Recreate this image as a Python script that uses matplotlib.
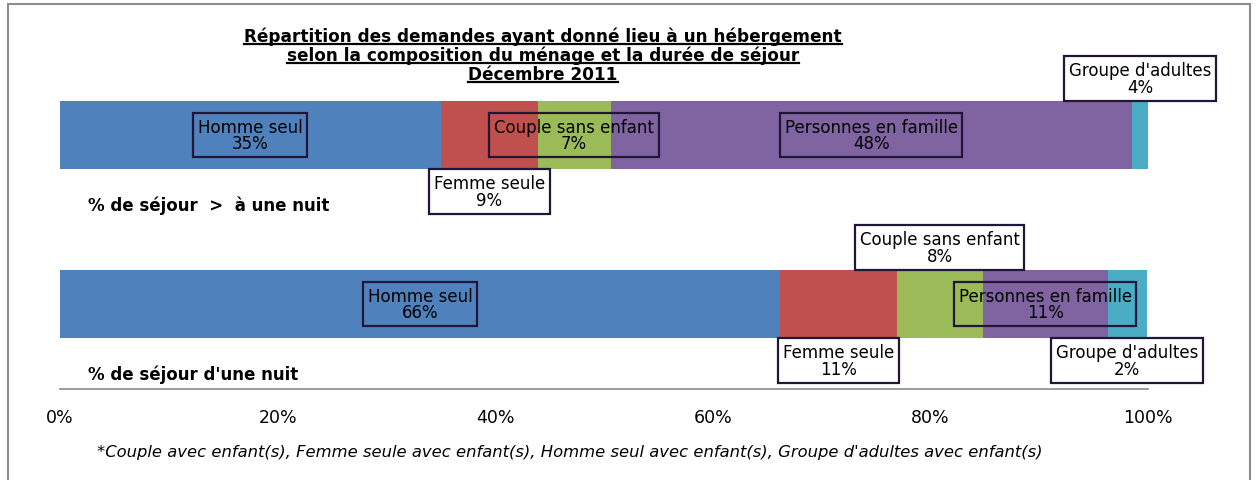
import matplotlib.pyplot as plt
from matplotlib.patches import Rectangle

# composition du ménage
categories = ["Homme seul", "Femme seule", "Couple sans enfant",
              "Personnes en famille", "Groupe d'adultes"]
rows = ["% de séjour  >  à une nuit", "% de séjour d'une nuit"]

# segment widths (%)
plus_une_nuit = [35.0, 8.9, 6.7, 47.9, 1.5]
une_nuit = [66.2, 10.7, 7.9, 11.5, 3.6]

# percentages printed in the data labels
labels_plus = ["35%", "9%", "7%", "48%", "4%"]
labels_une = ["66%", "11%", "8%", "11%", "2%"]

# where each label sits: 0 on the bar, -1 below, 1 above
place_plus = [0, -1, 0, 0, 1]
place_une = [0, -1, 1, 0, -1]

ticks = [0, 20, 40, 60, 80, 100]
colors = ["#4F81BD", "#C0504D", "#9BBB59", "#8064A2", "#4BACC6"]

title_lines = ["Répartition des demandes ayant donné lieu à un hébergement",
               "selon la composition du ménage et la durée de séjour",
               "Décembre 2011"]
footnote = ("*Couple avec enfant(s), Femme seule avec enfant(s), "
            "Homme seul avec enfant(s), Groupe d'adultes avec enfant(s)")

W, H = 1256, 481
fig = plt.figure(figsize=(W / 100, H / 100), dpi=100)
ax = fig.add_axes([60 / W, (H - 390) / H, 1088 / W, 350 / H])
ax.set_xlim(0, 100)
ax.set_ylim(-0.503, 1.568)

bar_h = 0.402
off = 0.334
box_edge = "#221638"

data = [(1, plus_une_nuit, labels_plus, place_plus),
        (0, une_nuit, labels_une, place_une)]
for y, vals, labs, places in data:
    left = 0
    for cat, v, lab, p, c in zip(categories, vals, labs, places, colors):
        ax.barh(y, v, left=left, height=bar_h, color=c, edgecolor="none")
        ax.text(left + v / 2, y + p * off, f"{cat}\n{lab}",
                ha="center", va="center", fontsize=12, linespacing=0.92,
                bbox=dict(boxstyle="square,pad=0.28",
                          facecolor="none" if p == 0 else "white",
                          edgecolor=box_edge, linewidth=1.6))
        left += v

for y, name in zip([1, 0], rows):
    ax.text(2.6, y - 0.415, name, ha="left", va="center",
            fontsize=12, fontweight="bold")

ax.set_xticks(ticks)
ax.set_xticklabels([f"{t}%" for t in ticks])
ax.tick_params(axis="x", length=0, pad=14, labelsize=12.5)
ax.set_yticks([])
for s in ["left", "right", "top"]:
    ax.spines[s].set_visible(False)
ax.spines["bottom"].set_color("#8a8a8a")
ax.spines["bottom"].set_linewidth(1.2)

# titre souligné
titles = []
for line, ypx in zip(title_lines, [37, 56, 75]):
    titles.append(fig.text(543 / W, 1 - ypx / H, line, ha="center",
                           va="center", fontsize=12.2, fontweight="bold"))

fig.text(97 / W, 1 - 452 / H, footnote, ha="left", va="center",
         fontsize=11.8, style="italic")

fig.add_artist(Rectangle((8 / W, -0.05), 1242 / W, (H - 5) / H + 0.05,
                         transform=fig.transFigure, fill=False,
                         edgecolor="#8c8c8c", linewidth=1.5, clip_on=False))

fig.canvas.draw()
r = fig.canvas.get_renderer()
for t in titles:
    bb = t.get_window_extent(r)
    yl = (bb.y0 + 1) / H
    fig.add_artist(plt.Line2D([bb.x0 / W, bb.x1 / W], [yl, yl],
                              transform=fig.transFigure, color="black",
                              linewidth=1.6))

fig.savefig("out.png", dpi=100)
